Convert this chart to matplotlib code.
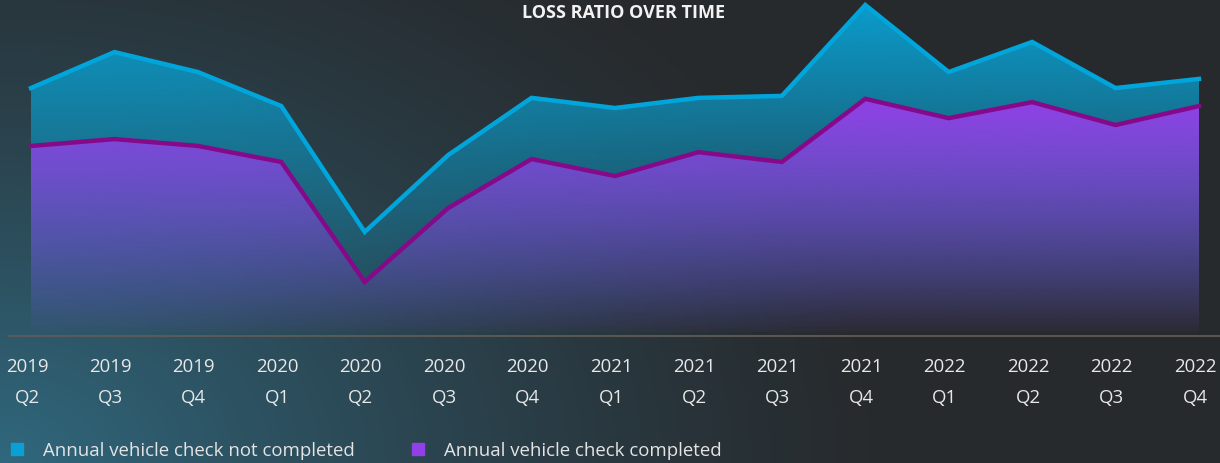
import numpy as np
import matplotlib
matplotlib.use("Agg")
import matplotlib.pyplot as plt
import matplotlib.transforms as mtransforms
from matplotlib.lines import Line2D

# ---------------- data ----------------
years = ["2019", "2019", "2019", "2020", "2020", "2020", "2020", "2021",
         "2021", "2021", "2021", "2022", "2022", "2022", "2022"]
quarters = ["Q2", "Q3", "Q4", "Q1", "Q2", "Q3", "Q4", "Q1",
            "Q2", "Q3", "Q4", "Q1", "Q2", "Q3", "Q4"]
not_completed = [74.6, 85.6, 79.5, 69.1, 30.6, 54.1, 71.6, 68.5,
                 71.6, 72.2, 100.0, 79.5, 88.7, 74.6, 77.4]
completed = [56.9, 59.0, 56.9, 52.0, 15.3, 37.9, 52.9, 47.7,
             55.0, 52.0, 71.3, 65.4, 70.3, 63.3, 69.1]
series_names = ["Annual vehicle check not completed", "Annual vehicle check completed"]
title = "LOSS RATIO OVER TIME"

# ---------------- style ----------------
plt.rcParams['font.family'] = ['Open Sans', 'DejaVu Sans']
W, H, DPI = 1220, 463, 100
fig = plt.figure(figsize=(W / DPI, H / DPI), dpi=DPI)

# background gradient
bg = fig.add_axes([0, 0, 1, 1])
bg.set_zorder(-10)
bg.axis("off")
yy, xx = np.mgrid[0:H, 0:W]
base = np.array([39, 42, 45]) / 255.0
glow = np.array([48, 104, 126]) / 255.0
d = np.sqrt((xx / 900.0) ** 2 + ((H - yy) / 650.0) ** 2)
w = np.clip(1 - d, 0, 1) ** 1.3
img = base[None, None, :] + w[..., None] * (glow - base)[None, None, :]
bg.imshow(img, extent=[0, 1, 0, 1], aspect="auto", origin="upper")
bg.set_xlim(0, 1)
bg.set_ylim(0, 1)

ax = fig.add_axes([9 / W, (H - 336) / H, 1211 / W, 336 / H])
ax.set_facecolor("none")

x = np.arange(len(years))
ymax = 332 / 3.27


def grad_fill(xv, yv, rgb, a_top, a_bot, y_top, zorder):
    poly = ax.fill_between(xv, yv, 0, facecolor="none", edgecolor="none", zorder=zorder)
    n = 256
    im_arr = np.zeros((n, 1, 4))
    im_arr[..., :3] = np.array(rgb) / 255.0
    im_arr[..., 3] = np.linspace(a_top, a_bot, n)[:, None]
    im = ax.imshow(im_arr, extent=[xv[0], xv[-1], 0, y_top], origin="upper",
                   aspect="auto", zorder=zorder, interpolation="bilinear")
    im.set_clip_path(poly.get_paths()[0], transform=ax.transData)


blue_line = "#00a6db"
purple_line = "#86098a"
blue_fill = (10, 158, 206)
purple_fill = (146, 64, 230)

grad_fill(x, not_completed, blue_fill, 1.0, 0.0, ymax, 1)
ax.plot(x, not_completed, color=blue_line, lw=3.2, zorder=2, solid_joinstyle="miter")
grad_fill(x, completed, purple_fill, 1.0, 0.05, 71.5, 3)
ax.plot(x, completed, color=purple_line, lw=3.2, zorder=4, solid_joinstyle="miter")

step = (1199 - 31) / 14
ax.set_xlim(-(31 - 9) / step, 14 + (1220 - 1199) / step)
ax.set_ylim(-4 / 3.27, ymax)

for s in ["top", "left", "right"]:
    ax.spines[s].set_visible(False)
ax.spines["bottom"].set_color("#5f5b57")
ax.spines["bottom"].set_linewidth(1.3)
ax.set_yticks([])
ax.set_xticks(x)
ax.set_xticklabels([f"{a}\n{b}" for a, b in zip(years, quarters)],
                   color="#e8e8e8", fontsize=13.4, linespacing=1.9)
ax.tick_params(axis="x", length=0, pad=16)
shift = mtransforms.ScaledTranslation(-4 / DPI, 0, fig.dpi_scale_trans)
for lbl in ax.get_xticklabels():
    lbl.set_transform(lbl.get_transform() + shift)

fig.text(624 / W, 1 - 13 / H, title, ha="center", va="center",
         color="#f2f2f2", fontsize=13, fontweight="bold")

handles = [Line2D([], [], marker="s", ls="none", markersize=9, color="#0aa0d6"),
           Line2D([], [], marker="s", ls="none", markersize=9, color="#9040e6")]
leg = fig.legend(handles, series_names, loc="center left",
                 bbox_to_anchor=(-0.003, 1 - 451 / H), ncol=2, frameon=False,
                 fontsize=13.4, labelcolor="#e4e4e4", handlelength=0.8,
                 handletextpad=1.0, columnspacing=3.0, borderaxespad=0.3)

fig.savefig("out.png", dpi=DPI)
